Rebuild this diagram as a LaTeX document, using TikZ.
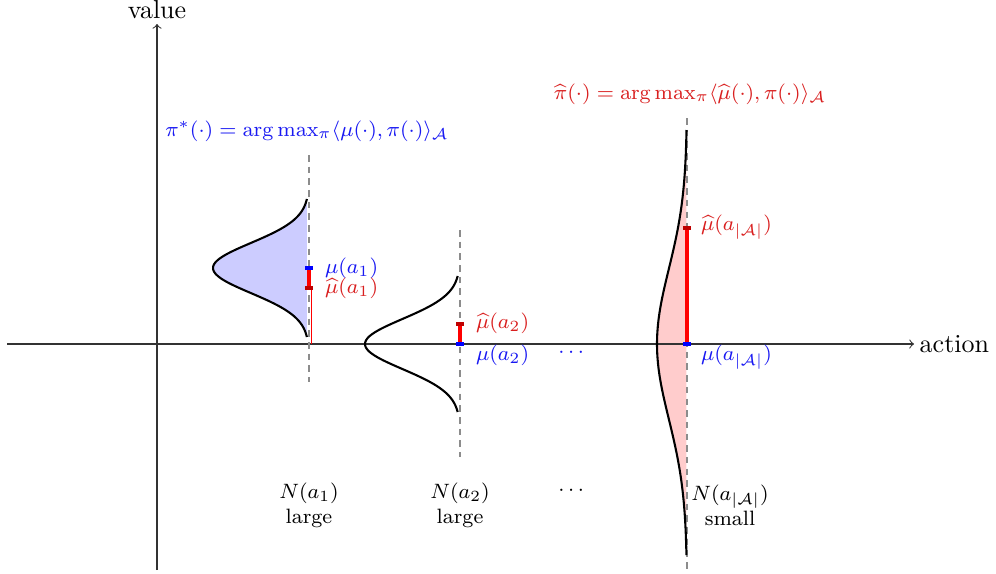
\documentclass[tikz,border=0pt]{standalone}
\usepackage{amsmath,amssymb}
\usetikzlibrary{calc}
\definecolor{lblred}{rgb}{0.85,0.12,0.12}
\definecolor{lblblue}{rgb}{0.1,0.1,0.95}
\definecolor{mkred}{rgb}{0.75,0,0}
\begin{document}
\begin{tikzpicture}[x=0.385pt,y=-0.385pt,
  axis/.style={black!80,line width=0.4pt,->},
  dashln/.style={gray!90,line width=0.9pt,dash pattern=on 2.5pt off 2pt},
  curve/.style={black,line width=0.8pt},
  bluelbl/.style={lblblue,font=\footnotesize,anchor=west,inner sep=1pt},
  redlbl/.style={lblred,font=\footnotesize,anchor=west,inner sep=1pt},
  bottom/.style={font=\footnotesize,align=center,inner sep=1pt},
  bar/.style={red,line width=1.5pt},
  bluemk/.style={fill=blue,draw=none},
  redmk/.style={fill=mkred,draw=none}]
\useasboundingbox (0,0) rectangle (996,573);
% fills
\fill[blue!20] plot[domain=-69:69,samples=80] ({309-96*exp(-0.5*(\x/25)*(\x/25))},{268+\x}) -- cycle;
\fill[red!20] plot[domain=-214:211,samples=120] ({687-30*exp(-0.5*(\x/75)*(\x/75))},{344+\x}) -- cycle;
% axes
\coordinate (xs) at (7,344); \coordinate (xe) at (914,344);
\coordinate (ys) at (157,570); \coordinate (ye) at (157,24);
\draw[axis] (xs) -- (xe) node[right,inner sep=2pt,black] (xl) {action};
\draw[axis] (ys) -- (ye) node[above,inner sep=2pt,black] (yl) {value};
% dashed lines
\coordinate (d1t) at (309,155); \coordinate (d1b) at (309,382);
\coordinate (d2t) at (460,230); \coordinate (d2b) at (460,457);
\coordinate (d3t) at (687,118); \coordinate (d3b) at (687,572);
\draw[dashln] (d1t) -- (d1b);
\draw[dashln] (d2t) -- (d2b);
\draw[dashln] (d3t) -- (d3b);
% curves
\draw[curve] plot[domain=-69:69,samples=80] ({309-96*exp(-0.5*(\x/25)*(\x/25))},{268+\x});
\draw[curve] plot[domain=-68:68,samples=80] ({460-95*exp(-0.5*(\x/25)*(\x/25))},{344+\x});
\draw[curve] plot[domain=-214:211,samples=120] ({687-30*exp(-0.5*(\x/75)*(\x/75))},{344+\x});
% action 1
\coordinate (m1) at (309,268); \coordinate (h1) at (309,288); \coordinate (z1) at (311,344);
\draw[red,line width=0.3pt] (311,288) -- (z1);
\draw[bar] (m1) -- (h1);
\fill[bluemk] ($(m1)+(-4,-2)$) rectangle ($(m1)+(4,2)$);
\fill[redmk] ($(h1)+(-4,-2)$) rectangle ($(h1)+(4,2)$);
\node[bluelbl] (l1) at (322,268) {$\mu(a_1)$};
\node[redlbl] (lh1) at (322,288) {$\widehat{\mu}(a_1)$};
% action 2
\coordinate (m2) at (460,344); \coordinate (h2) at (460,324);
\draw[bar] (m2) -- (h2);
\fill[redmk] ($(h2)+(-4,-2)$) rectangle ($(h2)+(4,2)$);
\fill[bluemk] ($(m2)+(-4,-2)$) rectangle ($(m2)+(4,2)$);
\node[redlbl] (lh2) at (473,323) {$\widehat{\mu}(a_2)$};
\node[bluelbl] (l2) at (473,355) {$\mu(a_2)$};
\node[lblblue,font=\footnotesize] (dots1) at (573,353) {$\cdots$};
% action 3
\coordinate (m3) at (687,344); \coordinate (h3) at (687,228);
\draw[bar] (m3) -- (h3);
\fill[redmk] ($(h3)+(-4,-2)$) rectangle ($(h3)+(4,2)$);
\fill[bluemk] ($(m3)+(-4,-2)$) rectangle ($(m3)+(4,2)$);
\node[redlbl] (lh3) at (698,227) {$\widehat{\mu}(a_{|\mathcal{A}|})$};
\node[bluelbl] (l3) at (698,357) {$\mu(a_{|\mathcal{A}|})$};
% top formulas
\node[lblblue,font=\footnotesize] (pistar) at (307,131) {$\pi^*(\cdot) = \arg\max_\pi \langle \mu(\cdot), \pi(\cdot)\rangle_{\mathcal{A}}$};
\node[lblred,font=\footnotesize] (pihat) at (690,94) {$\widehat{\pi}(\cdot) = \arg\max_\pi \langle \widehat{\mu}(\cdot), \pi(\cdot)\rangle_{\mathcal{A}}$};
% bottom labels
\node[bottom] (n1) at (309,505) {$N(a_1)$\\large};
\node[bottom] (n2) at (460,505) {$N(a_2)$\\large};
\node[font=\footnotesize] (dots2) at (573,491) {$\cdots$};
\node[bottom] (n3) at (730,505) {$N(a_{|\mathcal{A}|})$\\small};
\end{tikzpicture}
\end{document}
